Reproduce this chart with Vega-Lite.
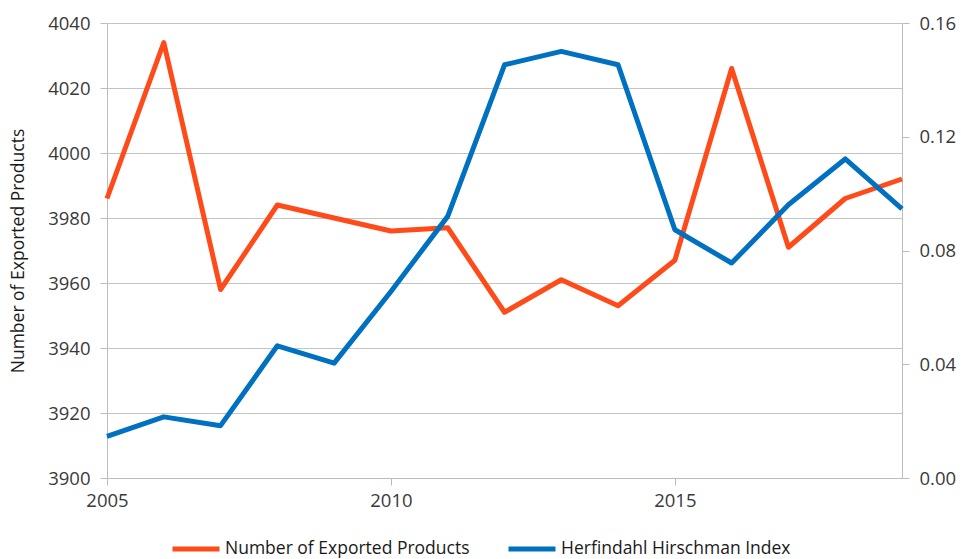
{
  "$schema": "https://vega.github.io/schema/vega-lite/v6.json",
  "width": 795,
  "height": 455,
  "autosize": {"type": "none"},
  "padding": {"left": 107, "top": 23, "right": 59, "bottom": 81},
  "config": {
    "view": {"stroke": null},
    "font": "Open Sans",
    "axis": {
      "labelFont": "Open Sans",
      "labelFontSize": 18.5,
      "labelColor": "#3a3a3a",
      "titleFont": "Open Sans",
      "titleFontSize": 17.5,
      "titleFontWeight": "normal",
      "titleColor": "#1a1a1a",
      "domainColor": "#bcbcbc",
      "tickColor": "#bcbcbc",
      "gridColor": "#c4c4c4",
      "tickSize": 7,
      "labelPadding": 10
    }
  },
  "data": {
    "values": [
      {"year": 2005, "products": 3986, "hhi": 0.0146},
      {"year": 2006, "products": 4034, "hhi": 0.0215},
      {"year": 2007, "products": 3958, "hhi": 0.0184},
      {"year": 2008, "products": 3984, "hhi": 0.0465},
      {"year": 2009, "products": 3980, "hhi": 0.0404},
      {"year": 2010, "products": 3976, "hhi": 0.0656},
      {"year": 2011, "products": 3977, "hhi": 0.0920},
      {"year": 2012, "products": 3951, "hhi": 0.1453},
      {"year": 2013, "products": 3961, "hhi": 0.1500},
      {"year": 2014, "products": 3953, "hhi": 0.1453},
      {"year": 2015, "products": 3967, "hhi": 0.0873},
      {"year": 2016, "products": 4026, "hhi": 0.0756},
      {"year": 2017, "products": 3971, "hhi": 0.0961},
      {"year": 2018, "products": 3986, "hhi": 0.1122},
      {"year": 2019, "products": 3992, "hhi": 0.0946}
    ]
  },
  "layer": [
    {
      "mark": {"type": "line", "strokeWidth": 5, "strokeJoin": "round"},
      "encoding": {
        "x": {
          "field": "year",
          "type": "quantitative",
          "scale": {"domain": [2005, 2019], "nice": false, "zero": false},
          "axis": {"values": [2005, 2010, 2015], "format": "d", "grid": false, "title": null, "labelPadding": 6, "labelFlush": false}
        },
        "y": {
          "field": "products",
          "type": "quantitative",
          "scale": {"domain": [3900, 4040], "nice": false, "zero": false},
          "axis": {
            "values": [3900, 3920, 3940, 3960, 3980, 4000, 4020, 4040],
            "format": "d",
            "grid": true,
            "title": "Number of Exported Products",
            "titlePadding": 20
          }
        },
        "color": {
          "datum": "Number of Exported Products",
          "type": "nominal",
          "scale": {
            "domain": ["Number of Exported Products", "Herfindahl Hirschman Index"],
            "range": ["#FF4A1A", "#0070C0"]
          },
          "legend": {
            "title": null,
            "orient": "none",
            "direction": "horizontal",
            "legendX": 63,
            "legendY": 500,
            "padding": 0,
            "symbolType": "stroke",
            "symbolSize": 2209,
            "symbolStrokeWidth": 5,
            "labelFont": "Open Sans",
            "labelFontSize": 17.5,
            "labelColor": "#1a1a1a",
            "labelOffset": 3,
            "labelLimit": 400,
            "columnPadding": 28
          }
        }
      }
    },
    {
      "mark": {"type": "line", "strokeWidth": 5, "strokeJoin": "round"},
      "encoding": {
        "x": {"field": "year", "type": "quantitative"},
        "y": {
          "field": "hhi",
          "type": "quantitative",
          "scale": {"domain": [0, 0.16], "nice": false},
          "axis": {
            "orient": "right",
            "values": [0, 0.04, 0.08, 0.12, 0.16],
            "format": ".2f",
            "grid": false,
            "title": null
          }
        },
        "color": {"datum": "Herfindahl Hirschman Index", "type": "nominal"}
      }
    }
  ],
  "resolve": {"scale": {"y": "independent"}}
}
